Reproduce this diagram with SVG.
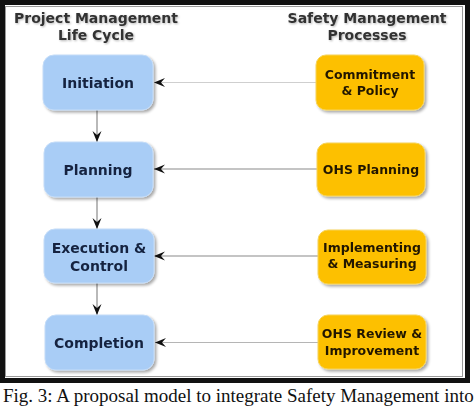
<svg xmlns="http://www.w3.org/2000/svg" width="474" height="407" viewBox="0 0 474 407">
<style>
.hdr{font-family:"DejaVu Sans",Verdana,sans-serif;font-weight:bold;font-size:14px;fill:#333333;text-anchor:middle}
.blue rect{fill:#a9cdf6;stroke:#c4dcf8;stroke-width:1}
.orange rect{fill:#fdc000;stroke:#f6d35a;stroke-width:1}
.bt{font-family:"DejaVu Sans",Verdana,sans-serif;font-weight:bold;font-size:14px;fill:#13233f;text-anchor:middle}
.ot{font-family:"DejaVu Sans",Verdana,sans-serif;font-weight:bold;font-size:12.5px;fill:#221700;text-anchor:middle}
.conn line{stroke:#8a8a8a;stroke-width:1.2;fill:none}
.cap{font-family:"Liberation Serif","Times New Roman",serif;font-size:19px;fill:#111}
</style>
<defs>
<filter id="sh" x="-10%" y="-10%" width="130%" height="130%">
<feGaussianBlur in="SourceAlpha" stdDeviation="1.5"/>
<feOffset dx="2" dy="2" result="b"/>
<feComponentTransfer><feFuncA type="linear" slope="0.35"/></feComponentTransfer>
<feMerge><feMergeNode/><feMergeNode in="SourceGraphic"/></feMerge>
</filter>
<filter id="tsh" x="-5%" y="-20%" width="110%" height="150%">
<feGaussianBlur in="SourceAlpha" stdDeviation="1"/>
<feOffset dx="1" dy="1"/>
<feComponentTransfer><feFuncA type="linear" slope="0.3"/></feComponentTransfer>
<feMerge><feMergeNode/><feMergeNode in="SourceGraphic"/></feMerge>
</filter>
<marker id="ah" viewBox="0 0 12 10" refX="11" refY="5" markerWidth="12" markerHeight="10" markerUnits="userSpaceOnUse" orient="auto">
<path d="M0,0.5 L11,5 L0,9.5 L4,5 Z" fill="#111"/>
</marker>
</defs>
<rect width="474" height="407" fill="#ffffff"/>
<rect x="2.5" y="2.5" width="465" height="378" fill="#ffffff" stroke="#111" stroke-width="5"/>
<rect x="5.5" y="6.5" width="457" height="370" fill="none" stroke="#9a9a9a" stroke-width="1"/>
<g id="header-left" filter="url(#tsh)">
<text class="hdr" x="96" y="23">Project Management</text>
<text class="hdr" x="96" y="40">Life Cycle</text>
</g>
<g id="header-right" filter="url(#tsh)">
<text class="hdr" x="367" y="23">Safety Management</text>
<text class="hdr" x="367" y="40">Processes</text>
</g>
<g class="conn">
<line x1="97" y1="110" x2="97" y2="142" marker-end="url(#ah)"/>
<line x1="97" y1="197" x2="97" y2="229" marker-end="url(#ah)"/>
<line x1="97" y1="283" x2="97" y2="315" marker-end="url(#ah)"/>
<line x1="316" y1="82.5" x2="154" y2="82.5" style="stroke:#cfcfcf" marker-end="url(#ah)"/>
<line x1="317" y1="169" x2="154" y2="169" marker-end="url(#ah)"/>
<line x1="318" y1="256" x2="154" y2="256" marker-end="url(#ah)"/>
<line x1="318" y1="342.5" x2="155" y2="342.5" style="stroke:#b5b5b5" marker-end="url(#ah)"/>
</g>
<g id="initiation" class="blue" filter="url(#sh)">
<rect x="43" y="55" width="110" height="55" rx="11"/>
<text class="bt" x="98" y="88">Initiation</text>
</g>
<g id="planning" class="blue" filter="url(#sh)">
<rect x="44" y="142" width="109" height="55" rx="11"/>
<text class="bt" x="98" y="175">Planning</text>
</g>
<g id="execution" class="blue" filter="url(#sh)">
<rect x="44" y="229" width="110" height="54" rx="11"/>
<text class="bt" x="99" y="253">Execution &amp;</text>
<text class="bt" x="99" y="271">Control</text>
</g>
<g id="completion" class="blue" filter="url(#sh)">
<rect x="45" y="315" width="109" height="55" rx="11"/>
<text class="bt" x="99" y="348">Completion</text>
</g>
<g id="commitment" class="orange" filter="url(#sh)">
<rect x="316" y="55" width="108" height="55" rx="10"/>
<text class="ot" x="370" y="79">Commitment</text>
<text class="ot" x="370" y="95">&amp; Policy</text>
</g>
<g id="ohs-planning" class="orange" filter="url(#sh)">
<rect x="317" y="143" width="108" height="53" rx="10"/>
<text class="ot" x="371" y="174">OHS Planning</text>
</g>
<g id="implementing" class="orange" filter="url(#sh)">
<rect x="318" y="230" width="108" height="54" rx="10"/>
<text class="ot" x="372" y="252">Implementing</text>
<text class="ot" x="372" y="268">&amp; Measuring</text>
</g>
<g id="ohs-review" class="orange" filter="url(#sh)">
<rect x="318" y="315" width="108" height="54" rx="10"/>
<text class="ot" x="372" y="338">OHS Review &amp;</text>
<text class="ot" x="372" y="355">Improvement</text>
</g>
<text class="cap" x="3" y="402">Fig. 3: A proposal model to integrate Safety Management into</text>
</svg>
